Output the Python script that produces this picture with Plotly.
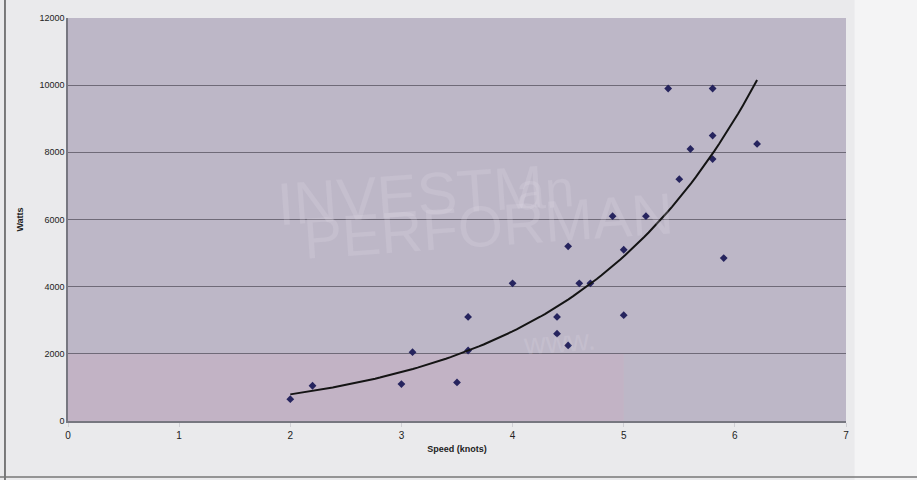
import numpy as np
import plotly.graph_objects as go

speed = [2.0, 2.2, 3.0, 3.1, 3.5, 3.6, 3.6, 4.0, 4.4, 4.4, 4.5, 4.5, 4.6, 4.7,
         4.9, 5.0, 5.0, 5.2, 5.4, 5.5, 5.6, 5.8, 5.8, 5.8, 5.9, 6.2]
watts = [650, 1050, 1100, 2050, 1150, 3100, 2100, 4100, 3100, 2600, 2250, 5200, 4100, 4100,
         6100, 5100, 3150, 6100, 9900, 7200, 8100, 9900, 8500, 7800, 4850, 8250]

x_ticks = [0, 1, 2, 3, 4, 5, 6, 7]
y_ticks = [0, 2000, 4000, 6000, 8000, 10000, 12000]

# Exponential trendline (log-linear least squares, as Excel does)
b, ln_a = np.polyfit(np.array(speed), np.log(np.array(watts)), 1)
tx = np.linspace(min(speed), max(speed), 100)
ty = np.exp(ln_a) * np.exp(b * tx)

fig = go.Figure()
fig.add_trace(go.Scatter(x=speed, y=watts, mode="markers",
                         marker=dict(symbol="diamond", size=6, color="#26245e"),
                         showlegend=False, hoverinfo="x+y"))
fig.add_trace(go.Scatter(x=tx, y=ty, mode="lines",
                         line=dict(color="#141414", width=2),
                         showlegend=False, hoverinfo="skip"))

# faint show-through text from the scanned page
ghost = dict(color="rgba(235,230,240,0.18)", family="Arial")
for txt, gx, gy, sz in [("INVESTM", 0.44, 0.67, 60), ("an", 0.613, 0.573, 52),
                        ("PERFORMAN", 0.54, 0.486, 58), ("www.", 0.632, 0.146, 30)]:
    fig.add_annotation(text=txt, xref="paper", yref="paper", x=gx, y=gy,
                       showarrow=False, font=dict(size=sz, **ghost), textangle=-4)

fig.update_layout(
    width=917, height=480,
    margin=dict(l=68, r=71, t=18, b=59),
    paper_bgcolor="#eaeaec",
    plot_bgcolor="#bdb7c7",
    font=dict(family="Arial", size=9, color="#222222"),
    shapes=[
        dict(type="rect", xref="paper", yref="paper", x0=1.011, x1=1.1, y0=-0.2, y1=1.05,
             fillcolor="#f4f4f5", line=dict(width=0), layer="below"),
        dict(type="rect", xref="x", yref="y", x0=0, x1=5.0, y0=0, y1=2000,
             fillcolor="rgba(215,170,190,0.22)", line=dict(width=0), layer="below"),
        dict(type="line", xref="paper", yref="paper", x0=-0.081, x1=-0.081, y0=-0.15, y1=1.05,
             line=dict(color="#555", width=1.5)),
        dict(type="line", xref="paper", yref="paper", x0=-0.09, x1=1.1, y0=-0.139, y1=-0.139,
             line=dict(color="#777", width=1.5)),
    ],
)
fig.update_xaxes(range=[0, 7], tickvals=x_ticks, showgrid=False, zeroline=False,
                 showline=True, linecolor="#777780", linewidth=1.5,
                 ticks="outside", ticklen=4, tickcolor="#cfcfd4",
                 title=dict(text="<b>Speed (knots)</b>", font=dict(size=9), standoff=6),
                 tickfont=dict(size=10))
fig.update_yaxes(range=[0, 12000], tickvals=y_ticks, tickformat="d", showgrid=True,
                 gridcolor="#6f6a78", gridwidth=1, zeroline=False, showline=True,
                 linecolor="#777780", linewidth=1.5, ticks="",
                 title=dict(text="<b>Watts</b>", font=dict(size=9), standoff=14),
                 tickfont=dict(size=9))

fig.write_html("out.html", config={"displayModeBar": False},
               post_script="document.body.style.margin='0';")
